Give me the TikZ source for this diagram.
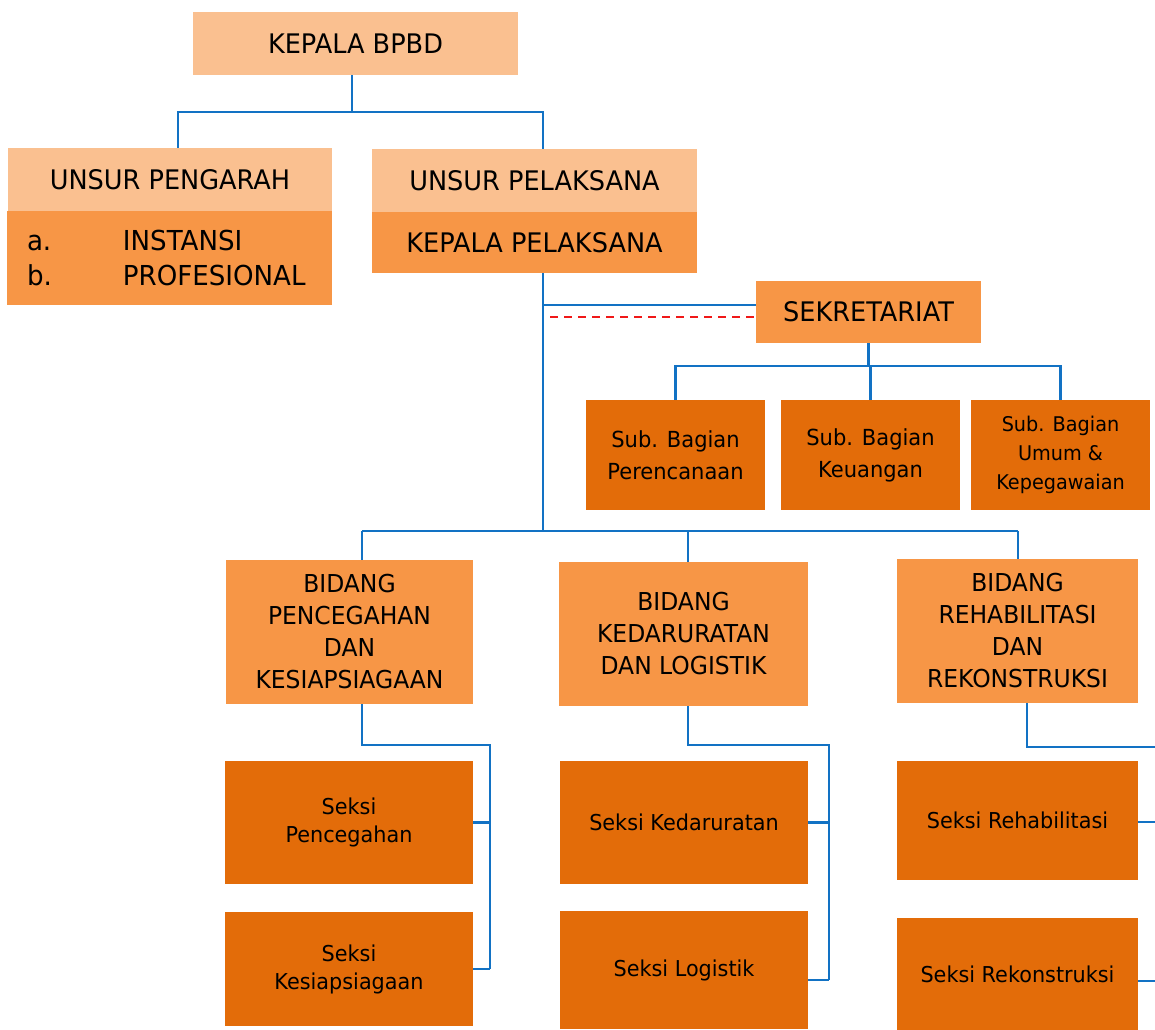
\documentclass[tikz,border=0pt]{standalone}
\usepackage{fontspec}
\setmainfont{DejaVu Sans}[FakeStretch=0.95]
\definecolor{lightor}{HTML}{FAC090}
\definecolor{midor}{HTML}{F79646}
\definecolor{darkor}{HTML}{E36C09}
\definecolor{linkblue}{HTML}{1272C4}
\definecolor{dashred}{HTML}{F01818}
\newcommand\orgbox[7]{\node[#6, minimum width={(#4-#2)*0.75pt}, minimum height={(#5-#3)*0.75pt}] (#1) at ({(#2+#4)/2},{(#3+#5)/2}) {#7};}
\tikzset{
  box/.style={draw=none, inner sep=0pt, align=center, text=black},
  lt/.style={box, fill=lightor},
  md/.style={box, fill=midor},
  dk/.style={box, fill=darkor},
  fmain/.style={font=\fontsize{20.2}{24}\selectfont},
  fbid/.style={font=\fontsize{18.5}{24}\selectfont},
  fsub/.style={font=\fontsize{16.6}{24}\selectfont},
  fsubs/.style={font=\fontsize{15.2}{21.75}\selectfont},
  fsek/.style={font=\fontsize{16.4}{21}\selectfont},
  conn/.style={draw=linkblue, line width=1.6pt},
  reddash/.style={draw=dashred, line width=1.2pt, dash pattern=on 6pt off 4.5pt},
}
\begin{document}
\begin{tikzpicture}[x=0.75pt, y=-0.75pt]
\useasboundingbox[fill=white] (0,0) rectangle (1155,1030);
% boxes
\orgbox{kepala}{193}{12}{518}{75}{lt,fmain}{KEPALA BPBD}
\orgbox{pengarah}{8}{148}{332}{211}{lt,fmain}{UNSUR PENGARAH}
\orgbox{anggota}{7}{211}{332}{305}{md,align=left,inner xsep=15pt,text width=213.75pt,font=\fontsize{20.6}{26.25}\selectfont}{\makebox[72pt][l]{a.}INSTANSI\\\makebox[72pt][l]{b.}PROFESIONAL}
\orgbox{pelaksana}{372}{149}{697}{212}{lt,fmain}{UNSUR PELAKSANA}
\orgbox{kpel}{372}{212}{697}{273}{md,fmain}{KEPALA PELAKSANA}
\orgbox{sek}{756}{281}{981}{343}{md,fmain}{SEKRETARIAT}
\orgbox{sub1}{586}{400}{765}{510}{dk,fsub}{Sub. Bagian\\Perencanaan}
\orgbox{sub2}{781}{400}{960}{510}{dk,fsub}{Sub. Bagian\\Keuangan}
\orgbox{sub3}{971}{400}{1150}{510}{dk,fsubs}{Sub. Bagian\\Umum \&\\Kepegawaian}
\orgbox{bid1}{226}{560}{473}{704}{md,fbid}{BIDANG\\PENCEGAHAN\\DAN\\KESIAPSIAGAAN}
\orgbox{bid2}{559}{562}{808}{706}{md,fbid}{BIDANG\\KEDARURATAN\\DAN LOGISTIK}
\orgbox{bid3}{897}{559}{1138}{703}{md,fbid}{BIDANG\\REHABILITASI\\DAN\\REKONSTRUKSI}
\orgbox{sk1}{225}{761}{473}{884}{dk,fsek}{Seksi\\Pencegahan}
\orgbox{sk2}{225}{912}{473}{1026}{dk,fsek}{Seksi\\Kesiapsiagaan}
\orgbox{sk3}{560}{761}{808}{884}{dk,fsek}{Seksi Kedaruratan}
\orgbox{sk4}{560}{911}{808}{1029}{dk,fsek}{Seksi Logistik}
\orgbox{sk5}{897}{761}{1138}{880}{dk,fsek}{Seksi Rehabilitasi}
\orgbox{sk6}{897}{918}{1138}{1030}{dk,fsek}{Seksi Rekonstruksi}
% junction coordinates
\coordinate (j1) at (352,112);
\coordinate (xa) at (178,0);
\coordinate (xb) at (543,0);
\coordinate (ys) at (0,305);
\coordinate (rd) at (550,317);
\coordinate (b1) at (0,366);
\coordinate (p1) at (362,531);
\coordinate (p2) at (688,531);
\coordinate (p3) at (1018,531);
\coordinate (q1) at (362,745);
\coordinate (r1) at (490,745);
\coordinate (q2) at (688,745);
\coordinate (r2) at (829,745);
\coordinate (q3) at (1027,747);
\coordinate (r3) at (1156,747);
\coordinate (s4e) at ([yshift=-7.5pt]sk4.east);
\coordinate (s5e) at ([yshift=-1pt]sk5.east);
\coordinate (s6e) at ([yshift=-5.25pt]sk6.east);
% top connectors
\draw[conn] (kepala.south -| j1) -- (j1);
\draw[conn] (pengarah.north -| xa) -- (xa |- j1) -- (xb |- j1) -- (pelaksana.north -| xb);
\draw[conn] (kpel.south -| xb) -- (xb |- p1);
\draw[conn] (xb |- ys) -- (sek.west |- ys);
\draw[reddash] (rd) -- (rd -| sek.west);
% sekretariat
\draw[conn] (sek.south) -- (sek.south |- b1);
\draw[conn] (sub1.north) -- (sub1.north |- b1) -- (sub3.north |- b1) -- (sub3.north);
\draw[conn] (sub2.north) -- (sub2.north |- b1);
% bidang bus
\draw[conn] (p1) -- (p3);
\draw[conn] (p1) -- (p1 |- bid1.north);
\draw[conn] (p2) -- (p2 |- bid2.north);
\draw[conn] (p3) -- (p3 |- bid3.north);
% seksi left
\draw[conn] (q1 |- bid1.south) -- (q1) -- (r1) -- (r1 |- sk2.east);
\draw[conn] (sk1.east) -- (sk1.east -| r1);
\draw[conn] (sk2.east) -- (sk2.east -| r1);
% seksi middle
\draw[conn] (q2 |- bid2.south) -- (q2) -- (r2) -- (r2 |- s4e);
\draw[conn] (sk3.east) -- (sk3.east -| r2);
\draw[conn] (s4e) -- (s4e -| r2);
% seksi right
\draw[conn] (q3 |- bid3.south) -- (q3) -- (r3);
\draw[conn] (s5e) -- (s5e -| r3);
\draw[conn] (s6e) -- (s6e -| r3);
\end{tikzpicture}
\end{document}
